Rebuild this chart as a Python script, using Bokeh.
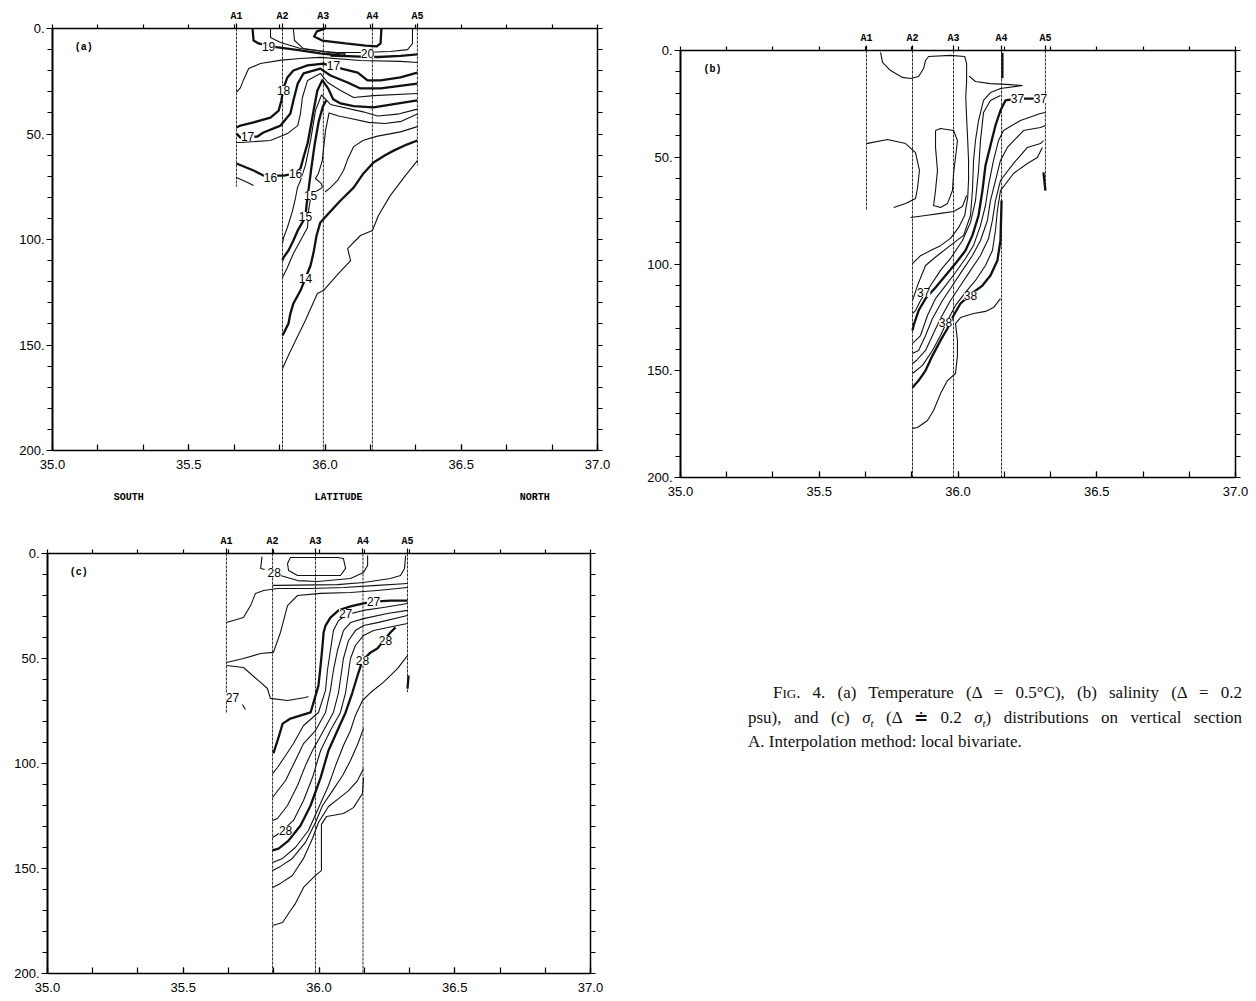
from bokeh.plotting import figure
from bokeh.models import Range1d, LinearAxis, FixedTicker, PrintfTickFormatter, Div
from bokeh.layouts import column, row
from bokeh.core.properties import value
from bokeh.embed import file_html
from bokeh.resources import INLINE

# ---------------------------------------------------------------- axes / ticks
LAT_LABEL_TICKS = [35.0, 35.5, 36.0, 36.5, 37.0]
LAT_MINOR_TICKS = [35.0, 35.1667, 35.3333, 35.5, 35.6667, 35.8333, 36.0,
                   36.1667, 36.3333, 36.5, 36.6667, 36.8333, 37.0]
DEPTH_LABEL_TICKS = [0, 50, 100, 150, 200]
DEPTH_MINOR_TICKS = [0, 10, 20, 30, 40, 50, 60, 70, 80, 90, 100, 110, 120,
                     130, 140, 150, 160, 170, 180, 190, 200]
REGION_TICKS = [35.28, 36.05, 36.77]
REGION_NAMES = ["SOUTH", "LATITUDE", "NORTH"]

# ---------------------------------------------------------------- stations
STATION_NAMES = ["A1", "A2", "A3", "A4", "A5"]
STATION_LAT_A = [35.675, 35.844, 35.994, 36.174, 36.339]
STATION_LAT_B = [35.670, 35.836, 35.984, 36.157, 36.315]
STATION_LAT_C = [35.659, 35.829, 35.987, 36.162, 36.326]
STATION_BOTTOM_A = [75, 200, 200, 200, 65]
STATION_BOTTOM_B = [75, 200, 200, 200, 65]
STATION_BOTTOM_C = [76, 200, 200, 200, 66]

# ---------------------------------------------------------------- (a) temperature isotherms, (lat, depth)
t_19 = [(35.734, 0), (35.738, 5.7), (35.756, 7.1), (35.80, 8.5), (35.91, 10.4), (35.983, 11.8), (36.057, 12.8)]
t_195a = [(35.80, 0), (35.80, 4.3), (35.837, 6.6), (35.91, 9.5), (36.02, 11.4), (36.075, 12.3)]
t_195b = [(35.884, 0), (35.888, 5.7), (35.921, 9.5), (36.0, 10.9), (36.075, 11.8)]
t_20 = [(36.002, 0), (35.97, 1.4), (35.96, 3.8), (35.99, 5.7), (36.075, 7.1), (36.149, 8.1),
        (36.19, 8.5), (36.204, 7.0), (36.207, 0)]
t_205 = [(36.321, 0), (36.321, 7.1), (36.303, 10.0), (36.24, 10.9), (36.13, 11.4), (36.02, 11.4)]
t_20b = [(36.02, 12.8), (36.13, 13.3), (36.196, 13.5), (36.277, 13.0), (36.339, 12.3)]
t_185 = [(35.675, 30.3), (35.69, 28), (35.70, 24.6), (35.72, 19), (35.763, 16.6), (35.84, 15),
         (35.91, 14.2), (35.983, 13.7), (36.13, 15.2), (36.277, 15.6), (36.339, 16.1)]
t_18 = [(35.675, 46.9), (35.69, 46), (35.738, 44.5), (35.80, 42.2), (35.83, 38.9), (35.84, 34.1),
        (35.848, 28), (35.862, 23.2), (35.884, 19.9), (35.936, 17.5), (35.994, 16.6), (36.046, 18.5),
        (36.12, 20.9), (36.156, 24.6), (36.204, 24.6), (36.277, 23.2), (36.339, 20.9)]
t_17 = [(35.675, 49.8), (35.69, 51.7), (35.752, 51.2), (35.774, 49.3), (35.837, 46), (35.873, 40.3),
        (35.884, 34.1), (35.90, 26.1), (35.921, 21.3), (35.983, 19), (36.02, 22.3), (36.083, 25.6),
        (36.13, 28.4), (36.204, 28.4), (36.339, 26.1)]
t_165 = [(35.675, 54), (35.69, 54), (35.80, 53.1), (35.862, 49.8), (35.90, 46), (35.91, 40.3),
         (35.917, 32.7), (35.936, 24.6), (35.983, 21.3), (36.01, 25.6), (36.057, 29.4), (36.105, 32.7),
         (36.178, 31.8), (36.339, 30.8)]
t_16 = [(35.675, 64), (35.738, 67.3), (35.774, 69.7), (35.848, 69.7), (35.892, 68.7), (35.91, 66.4),
        (35.921, 61.1), (35.936, 54.5), (35.947, 46.9), (35.958, 38.9), (35.972, 29.4), (35.99, 24.5),
        (36.012, 28.5), (36.03, 33.5), (36.057, 35.5), (36.105, 36.8), (36.178, 37.4), (36.339, 34.1)]
t_155 = [(35.844, 101.9), (35.848, 99.1), (35.862, 94.3), (35.881, 86.3), (35.892, 80.1), (35.899, 75.4),
         (35.91, 72), (35.928, 64.9), (35.947, 53.1), (35.965, 38.9), (35.987, 31.5), (36.02, 36),
         (36.14, 39.5), (36.193, 41.5), (36.266, 40.6), (36.339, 38.2)]
t_15 = [(35.844, 109.9), (35.848, 108.5), (35.866, 105.2), (35.884, 100.5), (35.90, 95.7), (35.917, 91.9),
        (35.928, 89.1), (35.933, 83), (35.94, 76), (35.95, 66), (35.962, 55), (35.977, 44),
        (35.992, 37), (36.005, 34)]
t_15b = [(35.844, 118), (35.862, 113.3), (35.884, 106.6), (35.91, 100.5), (35.936, 94.3), (35.94, 86),
         (35.947, 80.5), (35.97, 77), (35.99, 75.4), (35.987, 73.5), (35.965, 71.1), (35.976, 68.7),
         (35.99, 62.6), (36.002, 48.3), (36.015, 40), (36.05, 41.5), (36.09, 42.5), (36.16, 44.5),
         (36.22, 45), (36.28, 44), (36.339, 40.5)]
t_145 = [(36.339, 46.5), (36.277, 49), (36.193, 51), (36.141, 53), (36.105, 56), (36.083, 62),
         (36.068, 67.3), (36.046, 72), (36.02, 75.4), (36.0, 77.5)]
t_14 = [(36.339, 53.1), (36.30, 55), (36.25, 58), (36.222, 60), (36.178, 63.5), (36.141, 68.7),
        (36.105, 75.4), (36.057, 81.5), (36.013, 87.7), (35.983, 91.9), (35.969, 98.1), (35.958, 106.2),
        (35.947, 112.3), (35.928, 118.5), (35.91, 124.2), (35.884, 130.3), (35.873, 135.1),
        (35.866, 139.8), (35.848, 144.5), (35.844, 145.5)]
t_135 = [(36.339, 62.6), (36.295, 69.7), (36.24, 79.1), (36.196, 88.6), (36.174, 95.7), (36.13, 98.1),
         (36.083, 104.3), (36.094, 110), (36.05, 116.1), (35.994, 124.2), (35.972, 125.6),
         (35.928, 138.4), (35.892, 147.9), (35.866, 154.9), (35.844, 161.1)]
t_a1 = [(35.675, 70.6), (35.708, 72.5), (35.738, 74.4)]

TEMP_THIN = [t_195a, t_195b, t_205, t_185, t_165, t_155, t_15b, t_145, t_135, t_a1]
TEMP_BOLD = [t_19, t_20, t_20b, t_18, t_17, t_16, t_15, t_14]
TEMP_LABEL_TEXT = ["19", "20", "17", "18", "17", "16", "16", "15", "15", "14"]
TEMP_LABEL_LAT = [35.793, 36.156, 36.031, 35.848, 35.716, 35.80, 35.892, 35.947, 35.928, 35.928]
TEMP_LABEL_DEPTH = [8.5, 11.8, 17.5, 29.4, 51.2, 70.6, 68.7, 79.1, 89.1, 118.5]

# ---------------------------------------------------------------- (b) salinity isohalines
s_top = [(35.721, 0.9), (35.728, 5.6), (35.757, 9.4), (35.800, 12.6), (35.829, 13.1), (35.858, 12.2),
         (35.876, 8.4), (35.883, 4.7), (35.894, 2.8), (35.973, 2.3), (36.024, 2.8), (36.031, 6.1),
         (36.031, 14.1), (36.028, 22), (36.031, 31.4), (36.035, 42.2), (36.038, 51.5), (36.038, 60.9),
         (36.035, 68.9), (36.024, 77.3), (36.002, 83), (35.973, 88), (35.937, 91.4), (35.901, 93.7),
         (35.865, 96.1), (35.836, 99.8)]
s_lobe = [(35.670, 43.6), (35.746, 41.7), (35.811, 43.6), (35.847, 47.8), (35.861, 56.2), (35.854, 64.6),
          (35.847, 69.3), (35.811, 71.7), (35.768, 73.5)]
s_shelf = [(35.829, 78.2), (35.883, 77.3), (35.937, 76.3), (35.984, 75.4), (36.016, 73.1), (36.031, 67.9)]
s_loop = [(35.919, 37.5), (35.937, 36.5), (35.984, 37.5), (35.998, 42.2), (35.991, 50.1), (35.984, 57.6),
          (35.980, 65.6), (35.962, 71.7), (35.937, 73.5), (35.912, 72.6), (35.919, 65.6), (35.926, 56.2),
          (35.919, 45.4), (35.919, 37.5)]
s_f2 = [(36.040, 12), (36.063, 14.5), (36.117, 15.5), (36.189, 16), (36.232, 16.4), (36.153, 17.8),
        (36.117, 19.7), (36.092, 23.4), (36.074, 32.8), (36.063, 42.2), (36.056, 51.5), (36.052, 65.6),
        (36.045, 77.3), (36.020, 86.6), (35.973, 91.3), (35.926, 96), (35.883, 100.7), (35.854, 110.1),
        (35.836, 117.1)]
s_f3 = [(36.153, 21.1), (36.117, 23.4), (36.092, 29), (36.081, 42.2), (36.074, 56.2), (36.063, 70.3),
        (36.045, 80.6), (36.016, 89), (35.973, 97.4), (35.937, 103), (35.901, 110.1), (35.865, 117.1),
        (35.847, 121.8), (35.836, 123.2)]
s_37 = [(36.315, 22), (36.297, 22.5), (36.214, 22.5), (36.171, 23.4), (36.153, 28.1), (36.135, 35.1),
        (36.117, 44.5), (36.099, 53.9), (36.088, 65.6), (36.074, 77.3), (36.052, 86.6), (36.027, 93.7),
        (35.991, 99.8), (35.955, 105.4), (35.919, 111), (35.883, 116.2), (35.858, 121.8),
        (35.840, 128.8), (35.836, 131.1)]
s_f5 = [(36.315, 29), (36.297, 29.5), (36.225, 32.8), (36.164, 37.5), (36.146, 42.2), (36.128, 51.5),
        (36.110, 63.2), (36.099, 72.6), (36.081, 82), (36.056, 91.3), (36.027, 97.4), (35.991, 104),
        (35.955, 110.1), (35.919, 116.2), (35.890, 124.1), (35.865, 133.5), (35.836, 137.2)]
s_f6 = [(36.315, 35.1), (36.297, 36.1), (36.236, 37.5), (36.178, 45.4), (36.153, 51.5), (36.135, 60.9),
        (36.117, 70.3), (36.106, 79.6), (36.081, 89), (36.052, 96), (36.016, 103), (35.980, 110.1),
        (35.944, 117.1), (35.908, 125.5), (35.883, 133.5), (35.858, 140.5), (35.836, 141.9)]
s_f7 = [(36.308, 42.2), (36.297, 43.6), (36.250, 45.4), (36.200, 52.9), (36.153, 60.9), (36.135, 70.3),
        (36.124, 79.6), (36.110, 88.1), (36.081, 96), (36.045, 103), (36.009, 110.1), (35.973, 117.1),
        (35.937, 125.5), (35.908, 133.5), (35.883, 140.5), (35.850, 145.2), (35.836, 146.6)]
s_f8 = [(36.304, 45.4), (36.286, 50.1), (36.250, 52.9), (36.200, 57.6), (36.153, 65.6), (36.142, 74.9),
        (36.135, 84.3), (36.124, 93.7), (36.099, 100.7), (36.063, 107.7), (36.027, 113.3),
        (35.991, 119.4), (35.962, 126.5), (35.937, 133.5), (35.908, 140.5), (35.872, 147.5),
        (35.836, 151.3)]
s_38 = [(36.157, 70.3), (36.153, 89), (36.142, 98.4), (36.117, 105.4), (36.088, 110.1), (36.045, 114.3),
        (36.009, 118.5), (35.984, 124.1), (35.962, 130.2), (35.937, 135.8), (35.908, 142.9),
        (35.883, 149.9), (35.858, 154.6), (35.836, 157.8)]
s_deep = [(36.153, 116.2), (36.128, 120.4), (36.099, 122.2), (36.056, 123.2), (36.009, 125.1),
          (35.991, 127.9), (35.998, 135.8), (35.998, 142.9), (35.991, 151.3), (35.962, 154.6),
          (35.937, 160.7), (35.912, 168.6), (35.890, 173.3), (35.854, 176.6), (35.836, 177)]
s_a4 = [(36.160, 1), (36.160, 13)]
s_a5 = [(36.308, 57.1), (36.315, 65.6)]

SAL_THIN = [s_top, s_lobe, s_shelf, s_loop, s_f2, s_f3, s_f5, s_f6, s_f7, s_f8, s_deep]
SAL_BOLD = [s_37, s_38, s_a4, s_a5]
SAL_LABEL_TEXT = ["37", "37", "37", "38", "38"]
SAL_LABEL_LAT = [36.214, 36.297, 35.876, 36.045, 35.955]
SAL_LABEL_DEPTH = [22.5, 22.5, 113.3, 114.8, 127.4]

# ---------------------------------------------------------------- (c) sigma-t isopycnals
d_hook = [(35.790, 1.5), (35.785, 7.1), (35.800, 7.6)]
d_oval = [(35.895, 1.9), (35.884, 4.8), (35.888, 8.1), (35.921, 10.5), (36.079, 10.5), (36.098, 7.1),
          (36.090, 2.4), (36.068, 1.9), (35.895, 1.9)]
d_arc = [(35.847, 7.1), (35.858, 10.5), (35.921, 12.9), (35.994, 13.3), (36.116, 11.9), (36.164, 9),
         (36.179, 5.7), (36.179, 1)]
d_flat = [(36.319, 1), (36.315, 7.1), (36.300, 10.5), (36.263, 11.9), (36.164, 13.8), (36.068, 14.8),
          (35.847, 15.2), (35.829, 15.2)]
d_s1 = [(35.659, 32.9), (35.722, 30.5), (35.748, 24.8), (35.766, 19), (35.796, 17.6), (35.847, 16.7),
        (35.969, 16.7), (36.090, 16.2), (36.215, 15.2), (36.326, 14.3)]
d_s2 = [(35.659, 51.9), (35.722, 50), (35.785, 47.6), (35.832, 47.1), (35.858, 37.6), (35.884, 24.8),
        (35.921, 20), (36.006, 19), (36.116, 18.6), (36.215, 17.6), (36.326, 16.2)]
d_s3 = [(35.659, 53.3), (35.722, 54.3), (35.785, 61.4), (35.810, 64.3), (35.821, 69), (35.884, 70),
        (35.950, 68.6), (35.961, 68.1)]
d_dash = [(35.718, 71.9), (35.729, 74.3)]
d_27 = [(36.326, 22.4), (36.263, 22.4), (36.201, 22.9), (36.164, 23.8), (36.116, 25.2), (36.072, 27.1),
        (36.042, 30.5), (36.024, 34.3), (36.017, 37.6), (36.013, 43.8), (36.006, 53.3), (35.998, 62.9),
        (35.980, 70.9), (35.969, 75.7), (35.895, 78.6), (35.866, 81), (35.851, 87.6), (35.832, 95.2)]
d_g2 = [(36.326, 23.8), (36.237, 25.7), (36.164, 27.1), (36.105, 29), (36.072, 31.9), (36.053, 36.7),
        (36.042, 46.2), (36.031, 55.7), (36.024, 65.2), (35.998, 75.7), (35.943, 81.9), (35.906, 90.5),
        (35.877, 96.2), (35.847, 101.9), (35.829, 104.8)]
d_g3 = [(36.326, 27.1), (36.252, 28.6), (36.164, 31), (36.116, 32.9), (36.090, 36.7), (36.068, 46.2),
        (36.053, 55.7), (36.042, 65.2), (36.024, 75.7), (35.987, 84.3), (35.943, 90.5), (35.913, 98.6),
        (35.877, 108.1), (35.840, 114.3), (35.829, 116.2)]
d_g4 = [(36.326, 29.5), (36.215, 32.9), (36.164, 34.3), (36.134, 36.7), (36.109, 41.4), (36.090, 50),
        (36.072, 66.2), (36.053, 75.7), (36.017, 84.3), (35.976, 93.8), (35.950, 101), (35.921, 110.5),
        (35.884, 120), (35.847, 126.2), (35.829, 127.1)]
d_g5 = [(36.326, 33.3), (36.289, 34.3), (36.201, 36.7), (36.164, 39), (36.134, 43.8), (36.116, 50),
        (36.098, 66.2), (36.079, 75.7), (36.042, 84.3), (36.006, 93.8), (35.976, 106.7), (35.943, 117.6),
        (35.906, 127.1), (35.858, 132.9), (35.829, 135.2)]
d_28 = [(36.282, 35.2), (36.263, 37.6), (36.215, 45.2), (36.190, 47.1), (36.160, 51), (36.142, 58.1),
        (36.123, 66.2), (36.098, 75.7), (36.068, 84.3), (36.035, 93.8), (36.006, 106.7), (35.969, 120),
        (35.932, 129.5), (35.888, 136.7), (35.851, 140.5), (35.829, 141.4)]
d_g7 = [(36.326, 48.6), (36.289, 54.8), (36.237, 61.4), (36.190, 66.2), (36.160, 70), (36.134, 77.1),
        (36.116, 84.3), (36.090, 91.4), (36.061, 101), (36.035, 110.5), (35.994, 122.4), (35.961, 131.9),
        (35.913, 140), (35.866, 145.2), (35.829, 147.1)]
d_g8 = [(36.164, 83.3), (36.145, 90), (36.116, 98.6), (36.087, 105.7), (36.050, 112.9), (36.013, 120),
        (35.987, 128.1), (35.950, 137.6), (35.902, 145.2), (35.858, 149), (35.829, 151)]
d_g9 = [(36.164, 102.4), (36.142, 108.1), (36.109, 112.9), (36.072, 116.7), (36.035, 120.5),
        (35.998, 128.1), (35.976, 135.7), (35.943, 145.2), (35.902, 153.3), (35.858, 157.1), (35.829, 159)]
d_g10 = [(36.164, 106.7), (36.160, 114.3), (36.127, 121), (36.090, 123.8), (36.028, 125.2), (36.009, 129),
         (36.009, 151), (35.987, 153.3), (35.943, 159), (35.913, 166.7), (35.895, 170), (35.866, 175.7),
         (35.829, 177.1)]
d_a5 = [(36.330, 58.1), (36.326, 64.3)]

SIG_THIN = [d_hook, d_oval, d_arc, d_flat, d_s1, d_s2, d_s3, d_dash, d_g2, d_g3, d_g4, d_g5,
            d_g7, d_g8, d_g9, d_g10]
SIG_BOLD = [d_27, d_28, d_a5]
SIG_LABEL_TEXT = ["28", "27", "27", "28", "28", "28", "27"]
SIG_LABEL_LAT = [35.835, 36.201, 36.098, 36.245, 36.160, 35.877, 35.681]
SIG_LABEL_DEPTH = [9.0, 22.9, 28.6, 41.4, 51.0, 131.9, 68.6]

INK = "black"
NUM_FONT = "Liberation Sans"
MONO_FONT = "Liberation Mono"


def style_axis(ax, width=1.5):
    ax.axis_line_color = "black"
    ax.axis_line_width = width
    ax.major_tick_line_color = "black"
    ax.minor_tick_line_color = "black"
    ax.major_tick_line_width = 1.2
    ax.minor_tick_line_width = 1.2
    ax.major_label_text_color = INK
    ax.major_label_text_font = NUM_FONT
    ax.major_label_text_font_size = "13px"


def build_panel(frame_w, frame_h, borders, stations, bottoms, thin, bold,
                lab_text, lab_lat, lab_depth, tag, with_regions=False):
    left, right, top, bottom = borders
    p = figure(frame_width=frame_w, frame_height=frame_h,
               x_range=Range1d(35.0, 37.0), y_range=Range1d(200, 0),
               output_backend="svg", toolbar_location=None,
               min_border_left=left, min_border_right=right,
               min_border_top=top, min_border_bottom=bottom)
    p.grid.grid_line_color = None
    p.outline_line_color = "black"
    p.outline_line_width = 1
    p.background_fill_color = "white"
    p.border_fill_color = "white"

    # bottom: latitude in degrees, ticks every 10 minutes
    xb = p.xaxis[0]
    xb.ticker = FixedTicker(ticks=LAT_LABEL_TICKS, minor_ticks=LAT_MINOR_TICKS)
    xb.formatter = PrintfTickFormatter(format="%.1f")
    style_axis(xb)
    xb.major_tick_in, xb.major_tick_out = 6, 0
    xb.minor_tick_in, xb.minor_tick_out = 6, 0
    xb.major_label_standoff = 9

    # left: depth
    yl = p.yaxis[0]
    yl.ticker = FixedTicker(ticks=DEPTH_LABEL_TICKS, minor_ticks=DEPTH_MINOR_TICKS)
    yl.formatter = PrintfTickFormatter(format="%d.")
    style_axis(yl, 2)
    yl.major_tick_in, yl.major_tick_out = 0, 6
    yl.minor_tick_in, yl.minor_tick_out = 0, 5
    yl.major_label_standoff = 2

    # top: station names
    xt = LinearAxis(ticker=FixedTicker(ticks=stations, minor_ticks=LAT_MINOR_TICKS),
                    major_label_overrides={s: n for s, n in zip(stations, STATION_NAMES)})
    style_axis(xt)
    xt.major_tick_in, xt.major_tick_out = 0, 5
    xt.minor_tick_in, xt.minor_tick_out = 0, 4
    xt.major_label_text_font = MONO_FONT
    xt.major_label_text_font_style = "bold"
    xt.major_label_text_font_size = "10px"
    xt.major_label_standoff = 2
    p.add_layout(xt, "above")

    # right: unlabelled depth ticks
    yr = LinearAxis(ticker=FixedTicker(ticks=[], minor_ticks=DEPTH_MINOR_TICKS))
    style_axis(yr)
    yr.minor_tick_in, yr.minor_tick_out = 0, 5
    p.add_layout(yr, "right")

    if with_regions:
        xr = LinearAxis(ticker=FixedTicker(ticks=REGION_TICKS),
                        major_label_overrides={t: n for t, n in zip(REGION_TICKS, REGION_NAMES)})
        xr.axis_line_color = None
        xr.major_tick_line_color = None
        xr.minor_tick_line_color = None
        xr.major_label_text_font = MONO_FONT
        xr.major_label_text_font_style = "bold"
        xr.major_label_text_font_size = "10px"
        xr.major_label_text_color = INK
        xr.major_label_standoff = 14
        p.add_layout(xr, "below")

    # station profiles
    p.segment(x0=stations, y0=[0] * len(stations), x1=stations, y1=bottoms,
              line_color="#2a2a2a", line_width=1, line_dash="3 1")

    # contours
    p.multi_line(xs=[[pt[0] for pt in ln] for ln in thin],
                 ys=[[pt[1] for pt in ln] for ln in thin],
                 line_color="#111111", line_width=1.1, line_join="round")
    p.multi_line(xs=[[pt[0] for pt in ln] for ln in bold],
                 ys=[[pt[1] for pt in ln] for ln in bold],
                 line_color="#111111", line_width=2.3, line_join="round")

    # contour values
    p.text(x=lab_lat, y=lab_depth, text=lab_text,
           text_font=value(NUM_FONT), text_font_size=value("12px"),
           text_align="center", text_baseline="middle", text_color=INK,
           background_fill_color="white")

    # panel tag
    p.text(x=[35.115], y=[9], text=[tag], text_font=value(MONO_FONT),
           text_font_style="bold", text_font_size=value("10px"),
           text_align="center", text_baseline="middle", text_color=INK)
    return p


pa = build_panel(545, 422, (52, 23, 28, 62), STATION_LAT_A, STATION_BOTTOM_A,
                 TEMP_THIN, TEMP_BOLD, TEMP_LABEL_TEXT, TEMP_LABEL_LAT, TEMP_LABEL_DEPTH,
                 "(a)", with_regions=True)
pb = build_panel(555, 427, (60, 20, 50, 35), STATION_LAT_B, STATION_BOTTOM_B,
                 SAL_THIN, SAL_BOLD, SAL_LABEL_TEXT, SAL_LABEL_LAT, SAL_LABEL_DEPTH, "(b)")
pc = build_panel(543, 420, (47, 30, 41, 28), STATION_LAT_C, STATION_BOTTOM_C,
                 SIG_THIN, SIG_BOLD, SIG_LABEL_TEXT, SIG_LABEL_LAT, SIG_LABEL_DEPTH, "(c)")

just = "text-align:justify;text-align-last:justify;"
caption = Div(
    text=(
        "<div style=\"width:494px;font-family:'Liberation Serif',serif;font-size:17px;"
        "line-height:24px;color:#111;\">"
        f"<div style='display:block;width:469px;margin-left:25px;{just}'>"
        "F<span style='font-size:13px'>IG</span>. 4. (a) Temperature (&Delta; = 0.5&deg;C), "
        "(b) salinity (&Delta; = 0.2</div>"
        f"<div style='display:block;width:494px;{just}'>"
        "psu), and (c) <i>&sigma;<sub style='font-size:11px;line-height:0'>t</sub></i> "
        "(&Delta; &#8784; 0.2 <i>&sigma;<sub style='font-size:11px;line-height:0'>t</sub></i>) "
        "distributions on vertical section</div>"
        "<div style='display:block;width:494px'>A. Interpolation method: local bivariate.</div>"
        "</div>"
    ),
    width=494, margin=(169, 0, 0, 128),
)

layout = row(column(pa, row(pc)), column(pb, caption))

with open("out.html", "w") as f:
    f.write(file_html(layout, INLINE, title="Section A"))
